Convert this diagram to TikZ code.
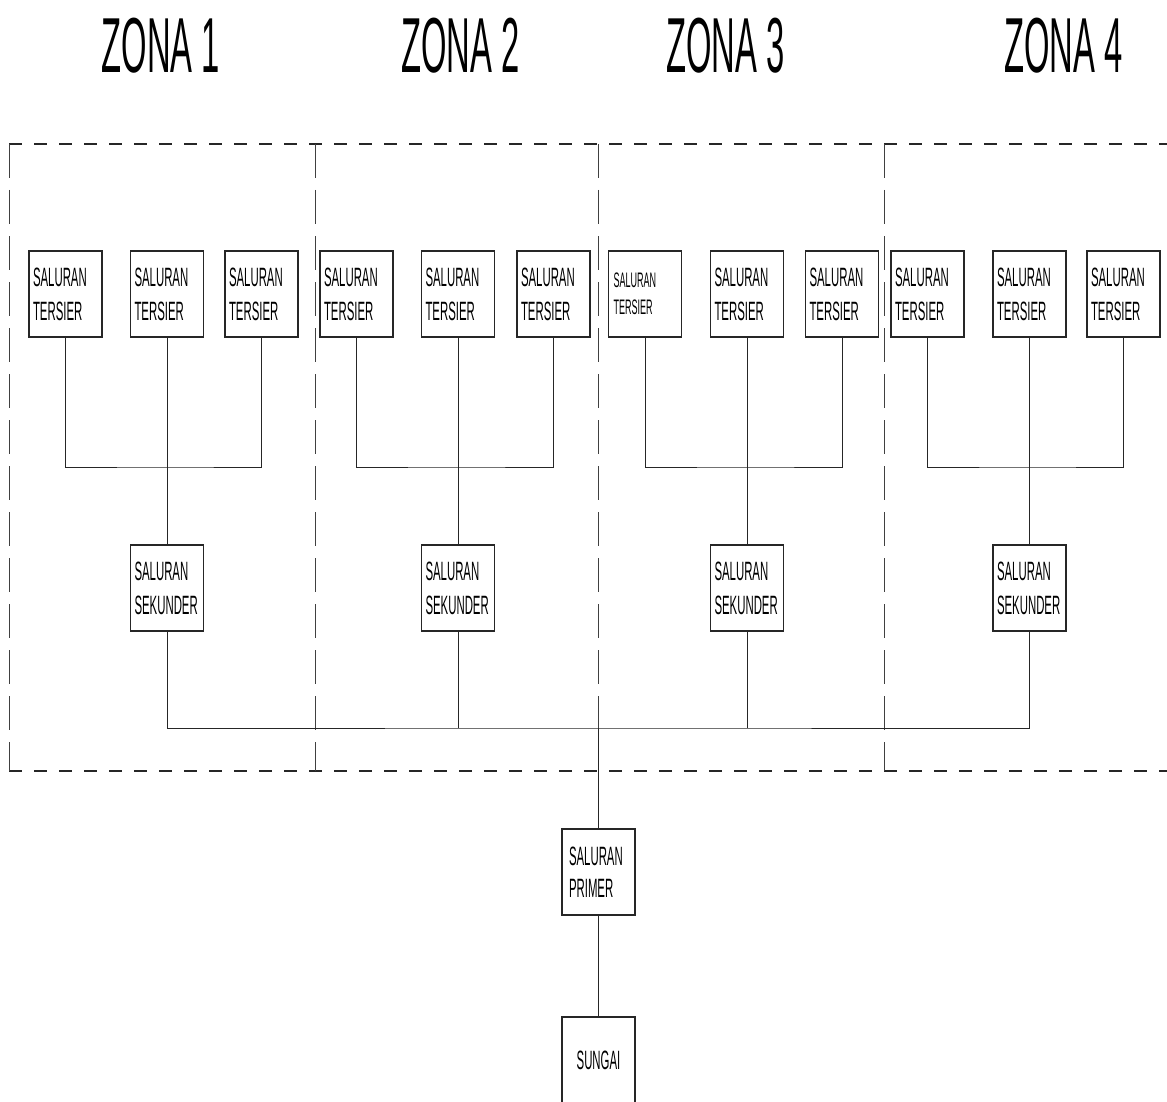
\documentclass[tikz,border=0pt]{standalone}
\usepackage{fontspec}
\setmainfont{Liberation Sans}
\newfontfamily\boxfont{Liberation Sans}[FakeStretch=0.43]
\newfontfamily\titlefont{Liberation Sans}[FakeStretch=0.42]
\begin{document}
\begin{tikzpicture}[x=1pt,y=-1pt,
  box/.style={draw=black!85, line width=1.4pt, minimum width=73pt, minimum height=86pt,
    inner xsep=4pt, inner ysep=0pt, text width=65pt, align=left,
    font=\boxfont\fontsize{26.5}{34}\selectfont},
  smallbox/.style={box, inner xsep=5pt, text width=63pt,
    font=\boxfont\fontsize{21}{27}\selectfont},
  pbox/.style={box, inner xsep=7pt, text width=59pt,
    font=\boxfont\fontsize{26.5}{32}\selectfont},
  sbox/.style={box, align=center},
  conn/.style={line width=1pt, draw=black!85},
  hdash/.style={line width=1.3pt, draw=black!85, dash pattern=on 13pt off 12pt},
  vdash/.style={line width=0.9pt, draw=black!75, dash pattern=on 34pt off 12pt},
  title/.style={anchor=base, inner sep=0pt, font=\titlefont\fontsize{78}{78}\selectfont}]
\useasboundingbox (0,0) rectangle (1167,1102);
\fill[white] (0,0) rectangle (1167,1102);

% titles
\node[title] (z1) at (161,73) {ZONA 1};
\node[title] (z2) at (460.5,73) {ZONA 2};
\node[title] (z3) at (725.5,73) {ZONA 3};
\node[title] (z4) at (1063.5,73) {ZONA 4};

% dashed zone frame
\draw[hdash] (9,144) -- (1175,144);
\draw[hdash] (9,771) -- (1175,771);
\draw[vdash] (9,144) -- (9,771);
\draw[vdash] (315,144) -- (315,771);
\draw[vdash] (598,144) -- (598,728);
\draw[vdash] (884,144) -- (884,771);

% tersier boxes
\node[box] (t11) at (65.5,294) {SALURAN\\TERSIER};
\node[box] (t12) at (167,294) {SALURAN\\TERSIER};
\node[box] (t13) at (261.5,294) {SALURAN\\TERSIER};
\node[box] (t21) at (356.5,294) {SALURAN\\TERSIER};
\node[box] (t22) at (458,294) {SALURAN\\TERSIER};
\node[box] (t23) at (553.5,294) {SALURAN\\TERSIER};
\node[smallbox] (t31) at (645,294) {SALURAN\\TERSIER};
\node[box] (t32) at (747,294) {SALURAN\\TERSIER};
\node[box] (t33) at (842,294) {SALURAN\\TERSIER};
\node[box] (t41) at (927.5,294) {SALURAN\\TERSIER};
\node[box] (t42) at (1029.5,294) {SALURAN\\TERSIER};
\node[box] (t43) at (1123.5,294) {SALURAN\\TERSIER};

% sekunder boxes
\node[box] (s1) at (167,588) {SALURAN\\SEKUNDER};
\node[box] (s2) at (458,588) {SALURAN\\SEKUNDER};
\node[box] (s3) at (747,588) {SALURAN\\SEKUNDER};
\node[box] (s4) at (1029.5,588) {SALURAN\\SEKUNDER};

% primer and sungai
\node[pbox] (p) at (598.5,872) {SALURAN\\PRIMER};
\node[sbox] (sg) at (598.5,1060) {SUNGAI};

% junction coordinates
\coordinate (j1) at (167,467);
\coordinate (j2) at (458,467);
\coordinate (j3) at (747,467);
\coordinate (j4) at (1029.5,467);
\coordinate (bus) at (598,728);

% tersier -> sekunder
\draw[conn] (t11.south) |- (j1) -| (t13.south);
\draw[conn] (t12.south) -- (s1.north);
\draw[conn] (t21.south) |- (j2) -| (t23.south);
\draw[conn] (t22.south) -- (s2.north);
\draw[conn] (t31.south) |- (j3) -| (t33.south);
\draw[conn] (t32.south) -- (s3.north);
\draw[conn] (t41.south) |- (j4) -| (t43.south);
\draw[conn] (t42.south) -- (s4.north);

% sekunder -> bus -> primer -> sungai
\draw[conn] (s1.south) |- (bus) -| (s4.south);
\draw[conn] (s2.south) -- (s2.south |- bus);
\draw[conn] (s3.south) -- (s3.south |- bus);
\draw[conn] (bus) -- (bus |- p.north);
\draw[conn] (p.south -| bus) -- (bus |- sg.north);
\end{tikzpicture}
\end{document}
